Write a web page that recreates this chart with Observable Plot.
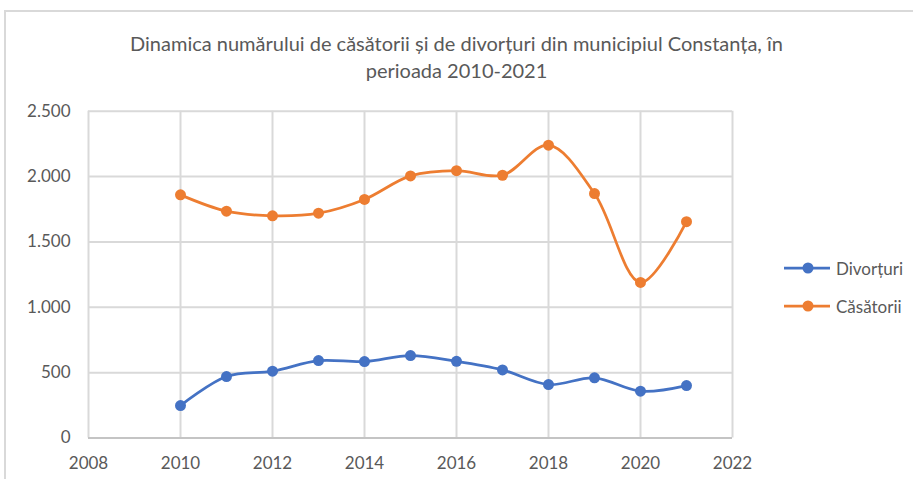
<!DOCTYPE html>
<html>
<head>
<meta charset="utf-8">
<script src="https://cdn.jsdelivr.net/npm/d3@7"></script>
<script src="https://cdn.jsdelivr.net/npm/@observablehq/plot@0.6"></script>
<style>
  html, body { margin: 0; padding: 0; background: #fff; }
  #wrap { position: relative; width: 913px; height: 479px; overflow: hidden; font-family: Lato, sans-serif; color: #595959; }
  #frame { position: absolute; left: 4px; top: 10px; width: 1000px; height: 1000px; border: 2px solid #d9d9d9; box-sizing: border-box; }
  #title { position: relative; height: 95px; box-sizing: border-box; padding-top: 30px; text-align: center; font-size: 20px; line-height: 27px; color: #595959; }
  #chart { position: relative; }
  #legend { position: absolute; left: 783px; top: 256px; font-size: 17px; color: #595959; }
  .item { display: flex; align-items: center; height: 24px; margin-bottom: 14px; }
  .item svg { margin-right: 5px; }
</style>
</head>
<body>
<div id="wrap">
  <div id="frame"></div>
  <div id="title">Dinamica numărului de căsătorii și de divorțuri din municipiul Constanța, în<br>perioada 2010-2021</div>
  <div id="chart"></div>
  <div id="legend"></div>
</div>
<script>
const years = [2010, 2011, 2012, 2013, 2014, 2015, 2016, 2017, 2018, 2019, 2020, 2021];
const divorturi = [248, 470, 511, 592, 585, 631, 587, 521, 409, 460, 358, 401];
const casatorii = [1860, 1735, 1700, 1720, 1825, 2005, 2045, 2010, 2240, 1870, 1190, 1655];
const seriesNames = ["Divorțuri", "Căsătorii"];
const seriesColors = ["#4472C4", "#ED7D31"];
const xTicks = [2008, 2010, 2012, 2014, 2016, 2018, 2020, 2022];
const yTicks = [0, 500, 1000, 1500, 2000, 2500];

const rows = [];
years.forEach((yr, i) => {
  rows.push({year: yr, value: divorturi[i], series: seriesNames[0]});
});
years.forEach((yr, i) => {
  rows.push({year: yr, value: casatorii[i], series: seriesNames[1]});
});

const fmt = d => d3.format(",")(d).replace(/,/g, ".");

const chart = Plot.plot({
  width: 913,
  height: 384,
  marginTop: 15.7,
  marginBottom: 41.5,
  marginLeft: 88,
  marginRight: 181,
  style: {fontFamily: "Lato, sans-serif", fontSize: "17px", color: "#595959", background: "transparent", overflow: "visible"},
  x: {domain: [2008, 2022], ticks: xTicks, tickFormat: d => String(d), tickSize: 0, tickPadding: 18.5, label: null},
  y: {domain: [0, 2500], ticks: yTicks, tickFormat: fmt, tickSize: 0, tickPadding: 18, label: null},
  color: {domain: seriesNames, range: seriesColors},
  marks: [
    Plot.gridX(xTicks, {stroke: "#d9d9d9", strokeOpacity: 1, strokeWidth: 2}),
    Plot.gridY(yTicks, {stroke: "#d9d9d9", strokeOpacity: 1, strokeWidth: 2}),
    Plot.ruleY([0], {stroke: "#c4c4c4", strokeWidth: 2}),
    Plot.axisX({ticks: xTicks, tickFormat: d => String(d), tickSize: 0, tickPadding: 18.5, fill: "#595959"}),
    Plot.axisY({ticks: yTicks, tickFormat: fmt, tickSize: 0, tickPadding: 18, fill: "#595959"}),
    Plot.line(rows, {x: "year", y: "value", z: "series", stroke: "series", curve: "catmull-rom", strokeWidth: 2.75}),
    Plot.dot(rows, {x: "year", y: "value", fill: "series", r: 5.5})
  ]
});
document.getElementById("chart").appendChild(chart);

const legend = document.getElementById("legend");
seriesNames.forEach((name, i) => {
  const item = document.createElement("div");
  item.className = "item";
  item.innerHTML = `<svg width="48" height="14"><line x1="1" y1="7" x2="47" y2="7" stroke="${seriesColors[i]}" stroke-width="2.75"/><circle cx="25" cy="7" r="5.5" fill="${seriesColors[i]}"/></svg><span>${name}</span>`;
  legend.appendChild(item);
});
</script>
</body>
</html>
